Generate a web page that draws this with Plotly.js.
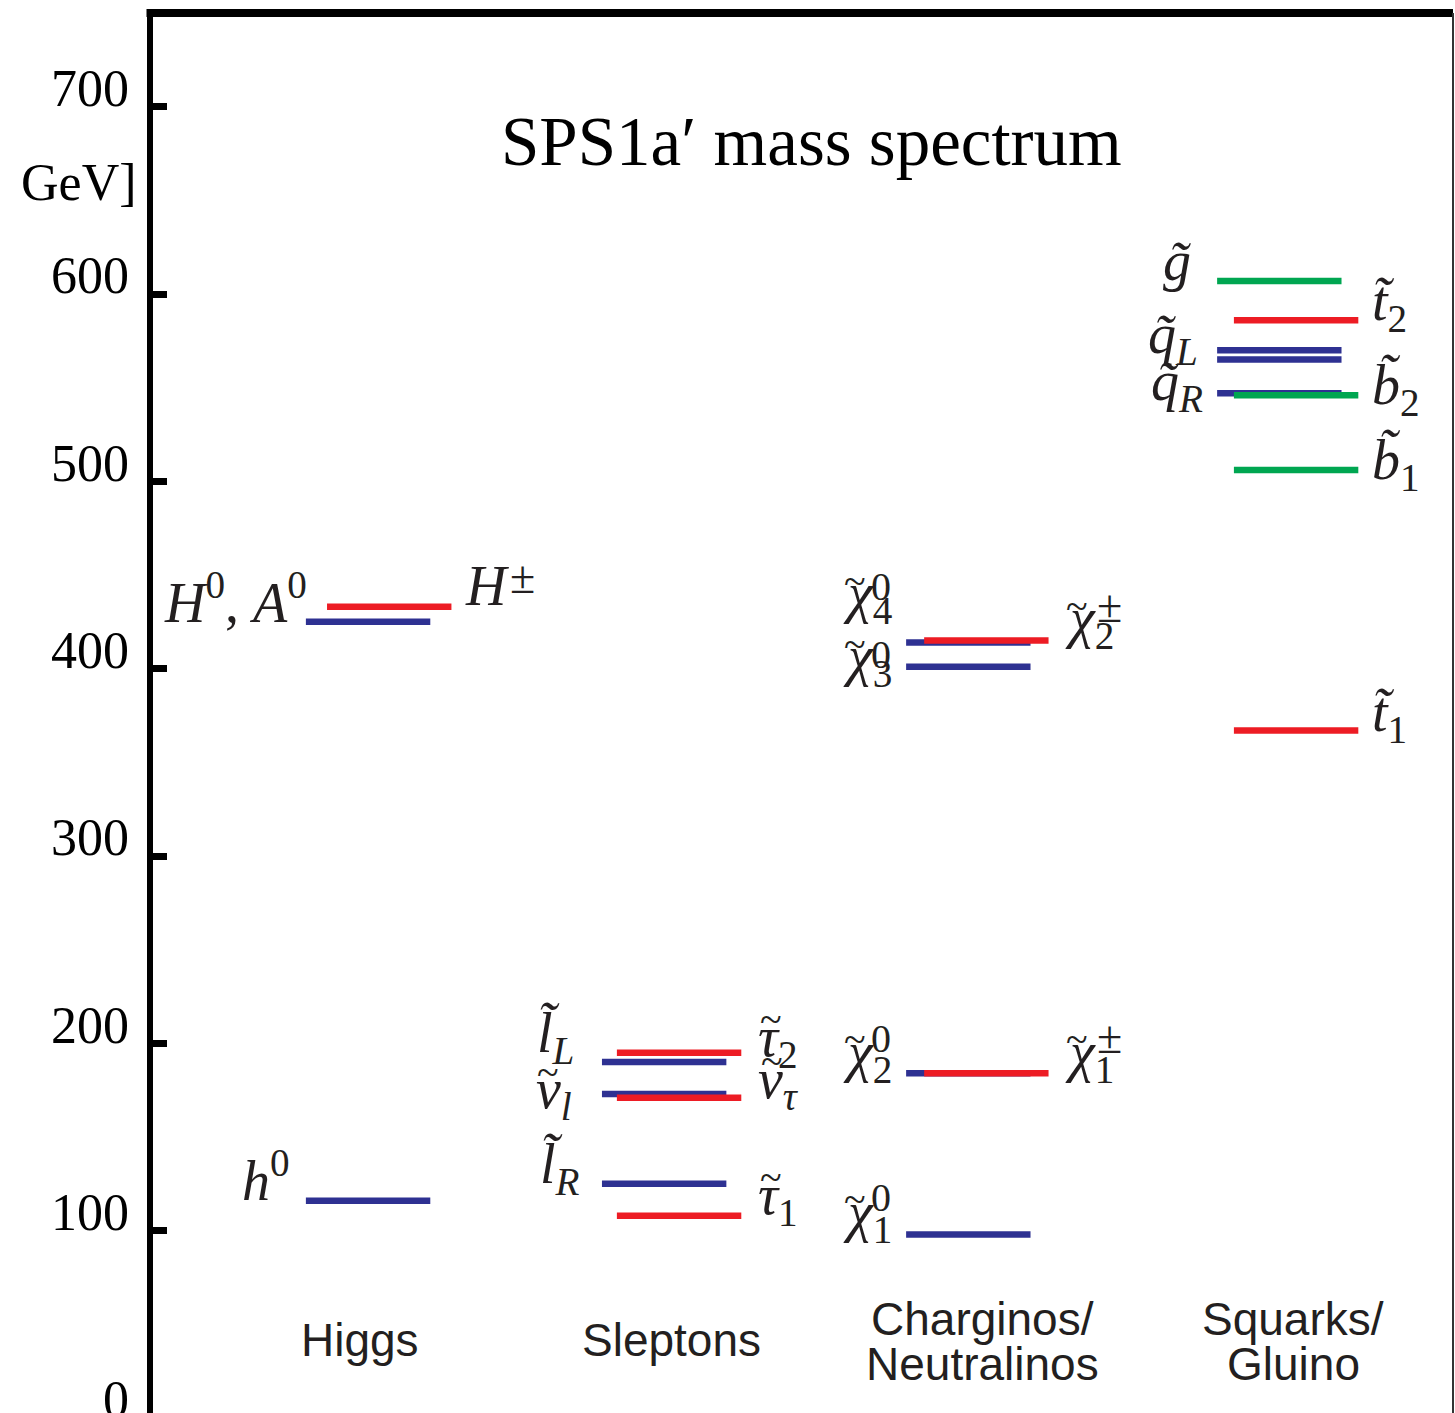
<!DOCTYPE html>
<html><head><meta charset="utf-8">
<script src="https://cdn.plot.ly/plotly-3.0.1.min.js"></script>
<style>html,body{margin:0;padding:0;overflow:hidden;background:#fff}#chart{width:1455px;height:1420px}</style>
</head><body><div id="chart"></div>
<script>
// ---- data (masses in GeV) ----
const categoryLines = [['Higgs'], ['Sleptons'], ['Charginos/', 'Neutralinos'], ['Squarks/', 'Gluino']];
const yTickVals = [0, 100, 200, 300, 400, 500, 600, 700];
const yTickText = ['0', '100', '200', '300', '400', '500', '600', '700'];

const higgsNeutralMass = [116, 425];      // h0, H0/A0
const higgsChargedMass = [433];           // H+-
const sleptonMass = [190, 173, 125];      // lL, nu_l, lR
const stauMass = [195, 171, 108];         // tau2, nu_tau, tau1
const neutralinoMass = [98, 184, 401, 414];
const charginoMass = [184, 415];
const squarkMass = [570, 565, 547];       // qL (2), qR
const stopMass = [367, 586];              // t1, t2
const gluinoMass = [607];
const sbottomMass = [546, 506];           // b2, b1

// ---- layout helpers ----
const L = 153, PW = 1300;
const X_RANGE = [-(360 - L) / 311, (1453 - 360) / 311];
const pxPerUnit = PW / (X_RANGE[1] - X_RANGE[0]);
const px2x = px => X_RANGE[0] + (px - L) / pxPerUnit;
const leftStart = [-0.174, -0.222, -0.244, -0.244];
const rightStart = [-0.106, -0.174, -0.186, -0.190];
const segLen = 0.4;

function segs(list) {
  const xs = [], ys = [];
  list.forEach(([col, side, masses]) => {
    const s = col + (side === 'L' ? leftStart[col] : rightStart[col]);
    masses.forEach(m => { xs.push(s, s + segLen, null); ys.push(m, m, null); });
  });
  return {xs, ys};
}
const BLUE = '#2e3192', RED = '#ed1c24', GREEN = '#00a651';
const blue = segs([[0, 'L', higgsNeutralMass], [1, 'L', sleptonMass], [2, 'L', neutralinoMass], [3, 'L', squarkMass]]);
const red = segs([[0, 'R', higgsChargedMass], [1, 'R', stauMass], [2, 'R', charginoMass], [3, 'R', stopMass]]);
const green = segs([[3, 'L', gluinoMass], [3, 'R', sbottomMass]]);
const mk = (s, c) => ({x: s.xs, y: s.ys, type: 'scatter', mode: 'lines', line: {color: c, width: 6.5}, hoverinfo: 'skip', showlegend: false});
const traces = [mk(blue, BLUE), mk(red, RED), mk(green, GREEN)];

// ---- labels ----
const FS = 56, SFS = 40;
const PXU = 1405 / 750; // px per GeV
const serif = 'Liberation Serif, Times New Roman, serif';
const ann = [];
function lab(text, xpx, base, anchor, hasSub, fs) {
  fs = fs || FS;
  ann.push({text, x: px2x(xpx), y: base, xref: 'x', yref: 'y', xanchor: anchor, yanchor: 'bottom',
    yshift: -(hasSub ? 0.361 : 0.216) * fs, showarrow: false, borderpad: 0, borderwidth: 0,
    font: {family: serif, size: fs, color: '#231f20'}});
}
function tilde(xpx, base, up) {
  ann.push({text: '~', x: px2x(xpx), y: base + (up + 3) / PXU, xref: 'x', yref: 'y', xanchor: 'center', yanchor: 'middle',
    showarrow: false, borderpad: 0, borderwidth: 0, font: {family: serif, size: 40, color: '#231f20'}});
}
function greek(letter, sub, left, base, tx) {
  lab('<i>' + letter + '</i><sub>' + sub + '</sub>', left, base, 'left', true);
  tilde(left + tx, base, letter === 'χ' ? 28 : 33);
}
// Higgs
lab('<i>h</i><sup>0</sup>', 290, 116.3, 'right', false);
lab('<i>H</i><sup>0</sup>, <i>A</i><sup>0</sup>', 307, 424.8, 'right', false);
lab('<i>H</i>', 465, 433.9, 'left', false);
lab('±', 510, 440.5, 'left', false, 46);
// Sleptons
lab('<i>l̃</i><sub><i>L</i></sub>', 574, 195.3, 'right', true);
greek('ν', '<i>l</i>', 536, 165.4, 12);
lab('<i>l̃</i><sub><i>R</i></sub>', 580, 125.3, 'right', true);
greek('τ', '2', 758, 193.5, 13);
greek('ν', '<i>τ</i>', 758, 171.1, 14);
greek('τ', '1', 758, 109.2, 13);
// Charginos / Neutralinos
[['4', 430.2, 436.5], ['3', 396.5, 400.2], ['2', 185.6, 195.1], ['1', 100.2, 110.3]].forEach(([n, b, sb]) => {
  greek('χ', n, 843, b, 12);
  lab('0', 871, sb, 'left', false, SFS);
});
[['2', 416.8, 425], ['1', 185.6, 194.6]].forEach(([n, b, sb]) => {
  greek('χ', n, 1065, b, 12);
  lab('±', 1097, sb, 'left', false, 46);
});
// Squarks / Gluino
lab('<i>g̃</i>', 1192, 607.4, 'right', false);
lab('<i>q̃</i><sub><i>L</i></sub>', 1198, 568.4, 'right', true);
lab('<i>q̃</i><sub><i>R</i></sub>', 1203, 543.3, 'right', true);
lab('<i>t̃</i><sub>2</sub>', 1372, 586, 'left', true);
lab('<i>b̃</i><sub>2</sub>', 1372, 541.6, 'left', true);
lab('<i>b̃</i><sub>1</sub>', 1372, 501.6, 'left', true);
lab('<i>t̃</i><sub>1</sub>', 1372, 367, 'left', true);

// category labels
const catY = {1: [41.5], 2: [52.7, 28.7]};
categoryLines.forEach((lines, i) => {
  lines.forEach((t, j) => {
    ann.push({text: t, x: i, y: catY[lines.length][j], xref: 'x', yref: 'y', xanchor: 'center', yanchor: 'middle',
      showarrow: false, font: {family: 'Liberation Sans, Arial, sans-serif', size: 46, color: '#231f20'}});
  });
});
// title and unit
ann.push({text: 'SPS1a′ mass spectrum', x: (811 - L) / PW, y: 0.908, xref: 'paper', yref: 'paper',
  xanchor: 'center', yanchor: 'middle', showarrow: false, font: {family: serif, size: 69, color: '#000'}});
ann.push({text: 'GeV]', x: (139 - L) / PW, y: 659.5, xref: 'paper', yref: 'y', xanchor: 'right', yanchor: 'middle',
  showarrow: false, font: {family: serif, size: 52, color: '#000'}});

const layout = {
  width: 1455, height: 1420,
  margin: {l: L, r: 2, t: 13, b: 2, pad: 0},
  paper_bgcolor: '#fff', plot_bgcolor: '#fff',
  showlegend: false,
  xaxis: {range: X_RANGE, visible: false, fixedrange: true},
  yaxis: {range: [0, 750], showgrid: false, zeroline: false, showline: true, linewidth: 6.5, linecolor: '#000',
    ticks: 'inside', ticklen: 14, tickwidth: 7, tickcolor: '#000', tickvals: yTickVals, ticktext: yTickText,
    tickfont: {family: serif, size: 52, color: '#000'}, ticklabelshift: -19, ticklabelstandoff: 7,
    ticklabeloverflow: 'allow', automargin: false, fixedrange: true},
  shapes: [
    {type: 'line', xref: 'paper', yref: 'paper', x0: -0.005, x1: 1, y0: 1, y1: 1, line: {color: '#000', width: 8}},
    {type: 'line', xref: 'paper', yref: 'paper', x0: 1, x1: 1, y0: 0, y1: 1, line: {color: '#333', width: 2}}
  ],
  annotations: ann
};
Plotly.newPlot('chart', traces, layout, {staticPlot: true, displayModeBar: false});
</script>
</body></html>
